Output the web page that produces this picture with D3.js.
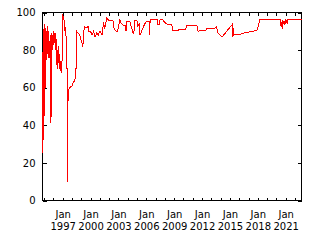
<!DOCTYPE html>
<html>
<head>
<meta charset="utf-8">
<script src="https://cdn.jsdelivr.net/npm/d3@7"></script>
<style>
  body { margin: 0; background: #fff; }
  svg { display: block; }
  .axis text { font-family: "DejaVu Sans", sans-serif; font-size: 10px; fill: #000; }
  .axis path, .axis line { stroke: #000; shape-rendering: crispEdges; }
</style>
</head>
<body>
<div id="chart"></div>
<script>
// dates and values
const dates = [
  "1994-11-01","1994-11-15","1994-12-01","1994-12-15","1995-01-01","1995-01-15","1995-02-01","1995-02-15",
  "1995-03-01","1995-03-15","1995-04-01","1995-04-15","1995-05-01","1995-05-15","1995-06-01","1995-06-15",
  "1995-07-01","1995-07-15","1995-08-01","1995-08-15","1995-09-01","1995-09-15","1995-10-01","1995-10-15",
  "1995-11-01","1995-11-15","1995-12-01","1995-12-15","1996-01-01","1996-01-15","1996-02-01","1996-02-15",
  "1996-03-01","1996-03-15","1996-04-01","1996-04-15","1996-05-01","1996-05-15","1996-06-01","1996-06-15",
  "1996-07-01","1996-07-15","1996-08-01","1996-08-15","1996-09-01","1996-09-15","1996-10-01","1996-10-15",
  "1996-11-01","1996-12-01","1997-01-01","1997-02-01","1997-03-01","1997-04-01","1997-05-01","1997-06-01",
  "1997-06-15","1997-07-01","1997-07-15","1997-08-01","1997-09-01","1997-10-01","1998-01-01","1998-03-01",
  "1998-05-01","1998-05-15","1998-06-15","1998-07-01","1998-09-01","1998-11-01","1999-01-01","1999-02-15",
  "1999-03-01","1999-04-01","1999-05-01","1999-08-01","1999-10-01","1999-11-01","2000-01-01","2000-03-01",
  "2000-05-01","2000-07-01","2000-09-01","2000-11-01","2001-01-01","2001-03-01","2001-04-01","2001-05-01",
  "2001-06-01","2001-07-01","2001-08-01","2001-10-01","2001-12-01","2002-03-01","2002-06-01","2002-07-01",
  "2002-08-01","2002-10-01","2002-12-01","2003-03-01","2003-05-01","2003-08-01","2003-10-01","2003-11-01",
  "2003-12-01","2004-04-01","2004-06-01","2004-08-01","2004-09-01","2004-10-01","2005-01-01","2005-02-01",
  "2005-04-01","2005-05-01","2005-06-01","2005-09-01","2005-11-01","2006-01-01","2006-03-01","2006-05-01",
  "2006-05-15","2006-06-01","2007-03-01","2007-04-01","2007-06-01","2007-07-01","2007-10-01","2007-11-01",
  "2008-03-01","2008-08-01","2008-10-01","2008-11-01","2009-06-01","2009-07-01","2010-04-01","2010-05-01",
  "2011-03-01","2011-07-01","2011-08-01","2012-01-01","2012-06-01","2012-07-01","2012-12-01","2013-07-01",
  "2013-08-01","2013-09-01","2014-03-01","2015-04-01","2015-04-15","2015-05-01","2015-05-15","2015-08-01",
  "2016-03-01","2016-06-01","2016-12-01","2017-06-01","2017-12-01","2018-04-01","2020-06-01","2020-07-01",
  "2020-08-01","2020-08-15","2020-09-01","2020-10-01","2020-11-01","2020-12-01","2021-01-01","2021-03-01",
  "2021-04-01","2022-09-15"
];
const values = [
  25, 70, 91, 32, 88, 45, 94, 60,
  92, 70, 90, 75, 93, 78, 88, 76,
  90, 80, 85, 76, 88, 78, 41, 80,
  89, 82, 88, 80, 90, 86, 89, 84,
  88, 80, 89, 84, 86, 72, 80, 70,
  76, 73, 82, 76, 70, 72, 74, 73,
  68, 68, 99, 97, 96, 90, 92, 80,
  70, 70, 10, 55, 59, 60, 61, 63,
  64, 70, 70, 90, 89, 88, 85, 83,
  81.5, 87, 92.5, 92, 92.5, 90, 90, 88,
  90, 87, 89, 88, 90, 89, 88, 92,
  95, 91, 93, 97, 96, 96, 96, 92,
  91, 90, 90, 96, 94, 93, 93, 90,
  95, 95, 92, 89, 89, 95.7, 95.7, 93,
  94, 88, 89, 92, 94, 95, 95.5, 95,
  88, 96.5, 96.5, 93.6, 93.6, 96.5, 96.5, 95.5,
  94, 93.5, 93.5, 90.4, 90.4, 91, 91, 93,
  93, 92.8, 90, 90.5, 90.5, 91.5, 91.5, 91.8,
  92.5, 89.5, 87, 93.6, 87, 92, 88, 88.2,
  88.5, 89, 89.5, 90, 90.5, 96.5, 96.5, 93,
  95, 91, 96, 94, 95.5, 93.5, 96.5, 94,
  96.5, 96.5
];
const tickYears = [1997, 2000, 2003, 2006, 2009, 2012, 2015, 2018, 2021];
const yTicks = [0, 20, 40, 60, 80, 100];

const width = 320;
const height = 240;
const margin = { top: 12, right: 19, bottom: 40, left: 42 };

const parseDate = d3.timeParse("%Y-%m-%d");
const data = dates.map((d, i) => ({ date: parseDate(d), value: values[i] }));

const svg = d3.select("#chart")
  .append("svg")
  .attr("width", width)
  .attr("height", height);

const x = d3.scaleTime()
  .domain(d3.extent(data, d => d.date))
  .range([margin.left + 0.5, width - margin.right + 0.5]);

const y = d3.scaleLinear()
  .domain([0, 100])
  .range([height - margin.bottom + 0.5, margin.top + 0.5]);

const majorTicks = tickYears.map(yr => new Date(yr, 0, 1));
const minorTicks = d3.timeYear.range(x.domain()[0], x.domain()[1]).filter(d => tickYears.indexOf(d.getFullYear()) < 0);

// frame
svg.append("rect")
  .attr("x", x.range()[0])
  .attr("y", y.range()[1])
  .attr("width", x.range()[1] - x.range()[0])
  .attr("height", y.range()[0] - y.range()[1])
  .attr("fill", "none")
  .attr("stroke", "#000")
  .attr("shape-rendering", "crispEdges");

// bottom axis (ticks pointing in)
const xAxis = svg.append("g")
  .attr("class", "axis")
  .attr("transform", `translate(0, ${y.range()[0]})`)
  .call(d3.axisBottom(x).tickValues(majorTicks).tickSize(-3).tickPadding(12).tickFormat(""));
xAxis.select(".domain").remove();
xAxis.selectAll(".tick text").each(function(d) {
  const t = d3.select(this).attr("text-anchor", "middle");
  t.append("tspan").attr("x", 0).attr("dy", "0").text("Jan");
  t.append("tspan").attr("x", 0).attr("dy", "12").text(d.getFullYear());
});
xAxis.selectAll(".tick text").attr("y", 17).attr("dy", null);

svg.append("g")
  .attr("class", "axis")
  .attr("transform", `translate(0, ${y.range()[0]})`)
  .call(d3.axisBottom(x).tickValues(minorTicks).tickSize(-3).tickFormat(""))
  .select(".domain").remove();

// top mirror ticks
[majorTicks, minorTicks].forEach(tv => {
  svg.append("g")
    .attr("class", "axis")
    .attr("transform", `translate(0, ${y.range()[1]})`)
    .call(d3.axisTop(x).tickValues(tv).tickSize(-3).tickFormat(""))
    .select(".domain").remove();
});

// left axis
const yAxis = svg.append("g")
  .attr("class", "axis")
  .attr("transform", `translate(${x.range()[0]}, 0)`)
  .call(d3.axisLeft(y).tickValues(yTicks).tickSize(-4).tickPadding(7));
yAxis.select(".domain").remove();

// right mirror ticks
svg.append("g")
  .attr("class", "axis")
  .attr("transform", `translate(${x.range()[1]}, 0)`)
  .call(d3.axisRight(y).tickValues(yTicks).tickSize(-4).tickFormat(""))
  .select(".domain").remove();

// the series
const line = d3.line()
  .x(d => x(d.date))
  .y(d => y(d.value));

svg.append("path")
  .datum(data)
  .attr("fill", "none")
  .attr("stroke", "#ff0000")
  .attr("stroke-width", 1)
  .attr("shape-rendering", "crispEdges")
  .attr("d", line);
</script>
</body>
</html>
